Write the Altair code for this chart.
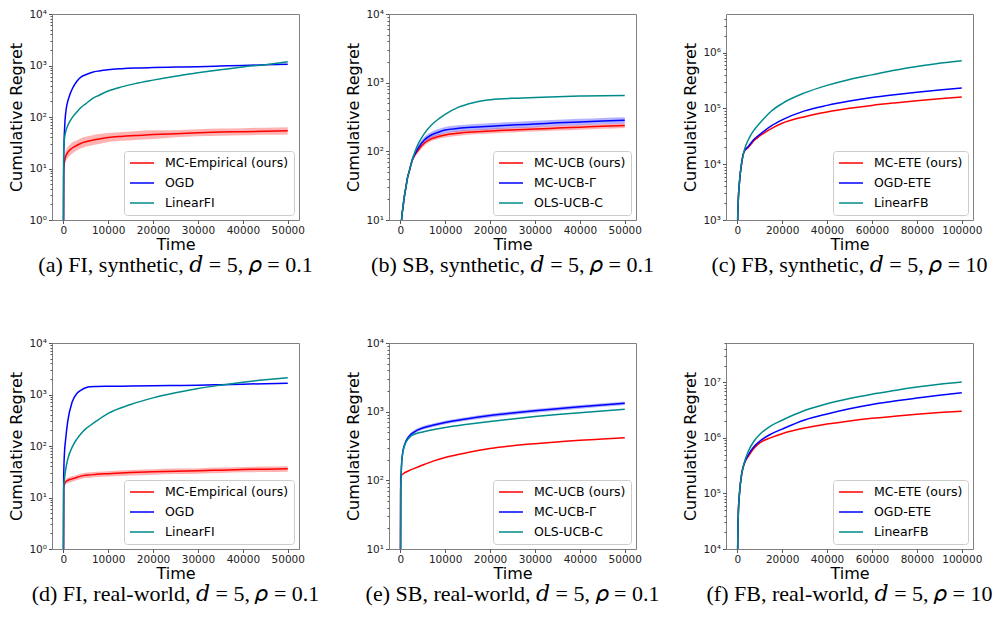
import altair as alt
import pandas as pd

# ---------------- data ----------------
RED, BLUE, TEAL = "#ff0000", "#0000ff", "#008b8b"

# (a) FI synthetic
T_a = [0, 100, 200, 400, 700, 1000, 1500, 2000, 3000, 4000, 5000, 6500, 8000, 10000, 13000, 16000, 20000, 25000, 30000, 35000, 40000, 45000, 50000]
a_mc = [0.01, 8, 12, 15.5, 18.5, 20.5, 23, 25, 28, 31, 33, 35.5, 37.5, 40, 42, 43.5, 45.5, 47.5, 49.5, 51, 52, 53, 54]
a_mc_lo = [0.01, 6.2, 9.4, 12.1, 14.4, 16.0, 17.9, 19.5, 22.4, 24.8, 26.4, 28.4, 30, 32.8, 34.4, 35.7, 37.3, 40.4, 42.1, 43.4, 44.2, 45.1, 45.9]
a_mc_hi = [0.01, 10.2, 15.4, 19.8, 23.7, 26.2, 29.4, 32, 35, 38.8, 41.3, 44.4, 46.9, 48.8, 51.2, 53.1, 55.5, 55.6, 57.9, 59.7, 60.8, 62, 63.2]
a_ogd = [0.01, 15, 35, 85, 150, 200, 275, 350, 490, 600, 660, 740, 785, 828, 865, 890, 910, 930, 950, 975, 1000, 1030, 1060]
a_lin = [0.01, 20, 32, 45, 58, 68, 83, 97, 124, 155, 180, 228, 265, 320, 385, 445, 520, 620, 720, 830, 940, 1035, 1180]

# (b) SB synthetic
T_b = [0, 300, 600, 900, 1300, 1650, 2000, 2400, 2800, 3200, 3900, 5400, 6900, 8500, 10000, 13000, 16000, 19000, 22000, 26000, 30000, 35000, 40000, 45000, 50000]
b_mc = [0.1, 10, 15, 21.5, 31, 42, 51, 64.5, 78, 88, 102, 132, 152, 164, 173, 184, 191, 196, 201, 206, 211, 218, 225, 231, 238]
b_mc_lo = [0.1, 9.7, 14.6, 20.9, 30, 40.5, 49, 60, 72, 81, 94, 121, 140, 151, 159, 169, 176, 180, 185, 190, 194, 201, 207, 213, 219]
b_mc_hi = [0.1, 10.3, 15.4, 22.1, 32, 43.5, 53, 69, 84, 95, 110, 143, 164, 177, 187, 199, 206, 212, 217, 222, 228, 235, 243, 249, 257]
b_g = [0.1, 10, 15, 21.5, 31, 42, 51, 64.5, 79, 90, 109, 147, 173, 190, 204, 216, 224, 230, 235, 243, 250, 260, 268, 276, 283]
b_g_lo = [0.1, 9.7, 14.6, 20.9, 30, 40.5, 49, 61, 73, 82, 98, 132, 156, 171, 184, 194, 202, 207, 212, 219, 225, 234, 241, 248, 255]
b_g_hi = [0.1, 10.3, 15.4, 22.1, 32, 43.5, 53, 68, 85, 98, 120, 163, 192, 211, 226, 240, 249, 255, 261, 270, 278, 289, 297, 306, 314]
b_ols = [0.1, 10, 15, 21.5, 31, 42, 51, 64.5, 80, 95, 124, 183, 240, 295, 345, 440, 507, 553, 578, 595, 610, 625, 637, 645, 652]

# (c) FB synthetic
T_c = [0, 200, 500, 1000, 2000, 3000, 5000, 7500, 10000, 15000, 20000, 30000, 40000, 50000, 60000, 70000, 80000, 90000, 100000]
c_mc = [10, 1000, 2400, 4800, 10700, 16500, 20000, 26500, 32000, 43000, 54000, 71000, 86000, 100000, 113000, 125000, 137000, 149000, 160000]
c_ogd = [10, 1000, 2400, 4800, 10700, 16500, 21000, 28000, 33900, 48000, 62000, 90000, 113000, 135000, 156000, 175000, 194000, 213000, 232000]
c_lin = [10, 1000, 2400, 4800, 10700, 17000, 27700, 41000, 54000, 88000, 122000, 189000, 258000, 330000, 398000, 480000, 560000, 640000, 710000]

# (d) FI real-world
T_d = [0, 100, 300, 500, 1000, 2000, 3000, 4000, 5000, 6000, 7500, 10000, 15000, 20000, 25000, 30000, 35000, 40000, 45000, 50000]
d_mc = [0.01, 15, 18.6, 20, 21.5, 23, 24.5, 26, 27, 27.5, 28.3, 29, 30.5, 31.6, 32.5, 33, 34, 35, 35.5, 36]
d_mc_lo = [0.01, 13.2, 16.4, 17.6, 18.9, 20.2, 21.6, 22.9, 23.8, 24.2, 24.9, 25.5, 26.8, 27.8, 28.6, 29.0, 29.9, 30.8, 31.2, 31.7]
d_mc_hi = [0.01, 16.8, 20.8, 22.4, 24.1, 25.8, 27.4, 29.1, 30.2, 30.8, 31.7, 32.5, 34.2, 35.4, 36.4, 37.0, 38.1, 39.2, 39.8, 40.3]
d_ogd = [0.01, 25, 80, 125, 300, 720, 1040, 1220, 1350, 1420, 1435, 1445, 1458, 1472, 1495, 1520, 1555, 1590, 1625, 1660]
d_lin = [0.01, 16, 24, 33, 55, 95, 135, 175, 215, 250, 310, 430, 640, 860, 1080, 1310, 1520, 1730, 1930, 2120]

# (e) SB real-world
T_e = [0, 100, 300, 500, 1000, 2000, 3000, 5000, 7500, 10000, 15000, 20000, 25000, 30000, 35000, 40000, 45000, 50000]
e_mc = [0.1, 117, 120, 122, 129, 139, 148, 167, 192, 215, 254, 290, 318, 341, 362, 383, 400, 417]
e_g = [0.1, 70, 170, 240, 334, 440, 501, 578, 640, 697, 790, 877, 955, 1030, 1100, 1175, 1250, 1330]
e_g_lo = [0.1, 65.8, 159.8, 225.6, 314, 413.6, 470.9, 543.3, 601.6, 655.2, 742.6, 824.4, 897.7, 968.2, 1034, 1104.5, 1175, 1250.2]
e_g_hi = [0.1, 74.2, 180.2, 254.4, 354, 466.4, 531.1, 612.7, 678.4, 738.8, 837.4, 929.6, 1012.3, 1091.8, 1166, 1245.5, 1325, 1409.8]
e_ols = [0.1, 70, 170, 235, 325, 417, 465, 507, 550, 590, 655, 720, 785, 850, 910, 968, 1025, 1080]

# (f) FB real-world
T_f = [0, 200, 500, 1000, 2000, 3000, 5000, 7500, 10000, 15000, 20000, 30000, 40000, 50000, 60000, 70000, 80000, 90000, 100000]
f_mc = [100, 10000, 45000, 100000, 225000, 330000, 470000, 650000, 810000, 1010000, 1190000, 1500000, 1770000, 2020000, 2250000, 2450000, 2650000, 2850000, 3030000]
f_ogd = [100, 10000, 45000, 100000, 225000, 335000, 500000, 700000, 870000, 1170000, 1440000, 2100000, 2700000, 3350000, 4000000, 4600000, 5200000, 5850000, 6500000]
f_lin = [100, 10000, 45000, 100000, 225000, 340000, 580000, 880000, 1150000, 1650000, 2080000, 3100000, 4100000, 5100000, 6100000, 7100000, 8200000, 9200000, 10100000]

X50 = [0, 10000, 20000, 30000, 40000, 50000]
X100 = [0, 20000, 40000, 60000, 80000, 100000]
SUP = {0: "10⁰", 1: "10¹", 2: "10²", 3: "10³", 4: "10⁴", 5: "10⁵", 6: "10⁶", 7: "10⁷"}

panels = [
    dict(cap="(a) FI, synthetic, 𝑑 = 5, 𝜌 = 0.1", T=T_a, xdom=[-2500, 52500], xt=X50,
         ydom=[1, 10000], exps=[0, 1, 2, 3, 4],
         names=["MC-Empirical (ours)", "OGD", "LinearFI"], vals=[a_mc, a_ogd, a_lin],
         bands=[(0, a_mc_lo, a_mc_hi)]),
    dict(cap="(b) SB, synthetic, 𝑑 = 5, 𝜌 = 0.1", T=T_b, xdom=[-2500, 52500], xt=X50,
         ydom=[10, 10000], exps=[1, 2, 3, 4],
         names=["MC-UCB (ours)", "MC-UCB-Γ", "OLS-UCB-C"], vals=[b_mc, b_g, b_ols],
         bands=[(0, b_mc_lo, b_mc_hi), (1, b_g_lo, b_g_hi)]),
    dict(cap="(c) FB, synthetic, 𝑑 = 5, 𝜌 = 10", T=T_c, xdom=[-5000, 105000], xt=X100,
         ydom=[1000, 4.9e6], exps=[3, 4, 5, 6],
         names=["MC-ETE (ours)", "OGD-ETE", "LinearFB"], vals=[c_mc, c_ogd, c_lin],
         bands=[]),
    dict(cap="(d) FI, real-world, 𝑑 = 5, 𝜌 = 0.1", T=T_d, xdom=[-2500, 52500], xt=X50,
         ydom=[1, 10000], exps=[0, 1, 2, 3, 4],
         names=["MC-Empirical (ours)", "OGD", "LinearFI"], vals=[d_mc, d_ogd, d_lin],
         bands=[(0, d_mc_lo, d_mc_hi)]),
    dict(cap="(e) SB, real-world, 𝑑 = 5, 𝜌 = 0.1", T=T_e, xdom=[-2500, 52500], xt=X50,
         ydom=[10, 10000], exps=[1, 2, 3, 4],
         names=["MC-UCB (ours)", "MC-UCB-Γ", "OLS-UCB-C"], vals=[e_mc, e_g, e_ols],
         bands=[(1, e_g_lo, e_g_hi)]),
    dict(cap="(f) FB, real-world, 𝑑 = 5, 𝜌 = 10", T=T_f, xdom=[-5000, 105000], xt=X100,
         ydom=[10000, 5.1e7], exps=[4, 5, 6, 7],
         names=["MC-ETE (ours)", "OGD-ETE", "LinearFB"], vals=[f_mc, f_ogd, f_lin],
         bands=[]),
]

COLORS = [RED, BLUE, TEAL]
W, H = 247, 206


def make_panel(p):
    lo, hi = p["ydom"]
    majors = [float(10 ** e) for e in p["exps"]]
    ticks = []
    e = p["exps"][0]
    while 10 ** e <= hi:
        for k in range(1, 10):
            v = float(k * 10 ** e)
            if lo <= v <= hi:
                ticks.append(v)
        e += 1
    label_expr = " : ".join(f"datum.value == {m} ? '{SUP[ex]}'" for m, ex in zip(majors, p["exps"])) + " : ''"
    test = " || ".join(f"datum.value == {m}" for m in majors)

    xs = alt.Scale(domain=p["xdom"], nice=False, zero=False)
    ys = alt.Scale(type="log", domain=p["ydom"], nice=False)
    cs = alt.Scale(domain=p["names"], range=COLORS)
    xax = alt.Axis(values=p["xt"], title="Time", tickSize=3.5, labelPadding=2, titlePadding=0,
                   format="d", labelFlush=False, labelOverlap=False)
    yax = alt.Axis(values=ticks, labelExpr=label_expr,
                   tickSize={"condition": {"test": test, "value": 3.5}, "value": 2},
                   title="Cumulative Regret", labelPadding=2, titlePadding=4, labelOverlap=False)
    legend = alt.Legend(title=None, orient="bottom-right", offset=5, symbolType="M-1,0H3",
                        symbolSize=144, symbolStrokeWidth=1.5, labelFontSize=12.5,
                        labelFont="DejaVu Sans", labelColor="black", padding=5, rowPadding=6,
                        fillColor="white", strokeColor="#cccccc", cornerRadius=3,
                        labelOffset=22, labelLimit=300)

    layers = []
    for idx, lo_v, hi_v in p["bands"]:
        bdf = pd.DataFrame({"t": p["T"], "lo": lo_v, "hi": hi_v})
        layers.append(
            alt.Chart(bdf).mark_area(clip=True, opacity=0.3, interpolate="monotone",
                                     color=COLORS[idx]).encode(
                x=alt.X("t:Q", scale=xs, axis=xax),
                y=alt.Y("lo:Q", scale=ys, axis=yax),
                y2="hi:Q",
            )
        )
    for name, v in zip(p["names"], p["vals"]):
        df = pd.DataFrame({"t": p["T"], "v": v, "series": name})
        layers.append(
            alt.Chart(df).mark_line(clip=True, strokeWidth=1.5, interpolate="monotone").encode(
                x=alt.X("t:Q", scale=xs, axis=xax),
                y=alt.Y("v:Q", scale=ys, axis=yax),
                color=alt.Color("series:N", scale=cs, sort=p["names"], legend=legend),
            )
        )
    return alt.layer(*layers).properties(
        width=W, height=H,
        title=alt.TitleParams(text=p["cap"], orient="bottom", anchor="middle", frame="group",
                              font="Liberation Serif, DejaVu Serif", fontSize=22,
                              fontWeight="normal", color="black", offset=3),
    )


chart = alt.concat(*[make_panel(p) for p in panels], columns=3,
                   spacing={"row": 123, "column": 90}, bounds="flush", padding=0).resolve_scale(
    x="independent", y="independent", color="independent"
).configure_view(stroke="#808080", strokeWidth=1).configure_axis(
    labelFont="DejaVu Sans", labelFontSize=10.5, labelColor="#222222",
    titleFont="DejaVu Sans", titleFontSize=16, titleFontWeight="normal", titleColor="black",
    tickColor="#555555", domain=False, grid=False,
)

chart.save("out.html", embed_options={"renderer": "svg", "actions": False})
